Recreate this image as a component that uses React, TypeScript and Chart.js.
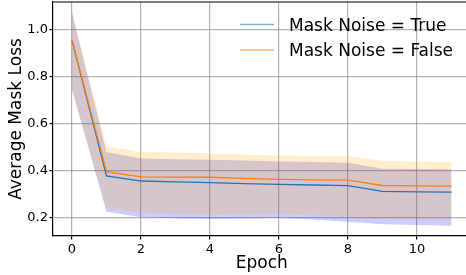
import React, { useEffect, useRef } from 'react';
import { Chart, registerables } from 'chart.js';

Chart.register(...registerables);

const epochs = [0, 1, 2, 3, 4, 5, 6, 7, 8, 9, 10, 11];
const trueMean = [0.957, 0.379, 0.357, 0.353, 0.35, 0.346, 0.343, 0.34, 0.337, 0.313, 0.311, 0.31];
const trueUpper = [1.074, 0.479, 0.453, 0.45, 0.448, 0.444, 0.44, 0.438, 0.435, 0.409, 0.408, 0.407];
const trueLower = [0.745, 0.226, 0.203, 0.199, 0.195, 0.198, 0.2, 0.193, 0.184, 0.173, 0.17, 0.167];
const falseMean = [0.957, 0.397, 0.375, 0.374, 0.373, 0.368, 0.364, 0.362, 0.361, 0.338, 0.336, 0.335];
const falseUpper = [1.076, 0.506, 0.481, 0.478, 0.474, 0.47, 0.466, 0.465, 0.463, 0.442, 0.44, 0.438];
const falseLower = [0.75, 0.238, 0.222, 0.218, 0.212, 0.215, 0.217, 0.21, 0.203, 0.195, 0.193, 0.192];

const xTicks = [0, 2, 4, 6, 8, 10];
const yTicks = [0.2, 0.4, 0.6, 0.8, 1.0];
const legendLabels = ['Mask Noise = True', 'Mask Noise = False'];
const xTitle = 'Epoch';
const yTitle = 'Average Mask Loss';

const FAMILY = '"DejaVu Sans", sans-serif';
const BLUE = '#1f77b4';
const ORANGE = '#ff7f0e';
const GRID = 'rgba(128,128,128,0.6)';

const legendPlugin = {
  id: 'customLegend',
  afterDraw(chart: any) {
    const ctx = chart.ctx;
    const { top, left, right } = chart.chartArea;
    ctx.save();
    ctx.strokeStyle = 'black';
    ctx.lineWidth = 1.2;
    ctx.beginPath();
    ctx.moveTo(left, top);
    ctx.lineTo(right, top);
    ctx.moveTo(right, top);
    ctx.lineTo(right, chart.chartArea.bottom);
    ctx.stroke();
    const colors = ['rgba(31,119,180,0.6)', 'rgba(255,127,14,0.6)'];
    const ys = [24.5, 50];
    ctx.font = `17px ${FAMILY}`;
    ctx.textBaseline = 'alphabetic';
    ctx.textAlign = 'left';
    legendLabels.forEach((t, i) => {
      ctx.strokeStyle = colors[i];
      ctx.lineWidth = 1.5;
      ctx.beginPath();
      ctx.moveTo(240, ys[i]);
      ctx.lineTo(274, ys[i]);
      ctx.stroke();
      ctx.fillStyle = 'black';
      ctx.fillText(t, 289, ys[i] + 6.2);
    });
    ctx.restore();
  },
};

export default function App() {
  const ref = useRef<HTMLCanvasElement>(null);
  useEffect(() => {
    const pts = (ys: number[]) => epochs.map((x, i) => ({ x, y: ys[i] }));
    const band = (ys: number[], color: string, order: number, fill: any) => ({
      data: pts(ys),
      borderWidth: 0,
      borderColor: 'rgba(0,0,0,0)',
      backgroundColor: color,
      pointRadius: 0,
      fill,
      order,
    });
    const tickFont = { family: FAMILY, size: 13 };
    const chart = new Chart(ref.current!, {
      type: 'line',
      data: {
        datasets: [
          band(trueLower, 'rgba(0,0,255,0.2)', 5, false),
          band(trueUpper, 'rgba(0,0,255,0.2)', 4, '-1'),
          band(falseLower, 'rgba(255,165,0,0.2)', 3, false),
          band(falseUpper, 'rgba(255,165,0,0.2)', 2, '-1'),
          {
            label: legendLabels[0],
            data: pts(trueMean),
            borderColor: BLUE,
            borderWidth: 1.3,
            pointRadius: 0,
            fill: false,
            order: 1,
          },
          {
            label: legendLabels[1],
            data: pts(falseMean),
            borderColor: ORANGE,
            borderWidth: 1.3,
            pointRadius: 0,
            fill: false,
            order: 0,
          },
        ] as any,
      },
      options: {
        responsive: false,
        animation: false,
        devicePixelRatio: 1,
        layout: { padding: { top: 2, right: 1.5, left: 0, bottom: 0 } },
        plugins: { legend: { display: false }, tooltip: { enabled: false } },
        elements: { line: { tension: 0 }, point: { radius: 0 } },
        scales: {
          x: {
            type: 'linear',
            min: -0.55,
            max: 11.55,
            z: 1,
            afterBuildTicks: (s: any) => {
              s.ticks = xTicks.map((v) => ({ value: v }));
            },
            afterFit: (s: any) => {
              s.height = 39;
              s.paddingLeft = 0;
              s.paddingRight = 0;
            },
            grid: { color: GRID, lineWidth: 1.2, drawTicks: true, tickLength: 3.5, tickColor: 'black', tickWidth: 1.2 },
            border: { color: 'black', width: 1.2 },
            ticks: {
              font: tickFont,
              color: 'black',
              padding: 2,
              maxRotation: 0,
              autoSkip: false,
              callback: (v: any) => String(v),
            },
            title: {
              display: true,
              text: xTitle,
              color: 'black',
              font: { family: FAMILY, size: 17, lineHeight: 1.2 },
              padding: { top: 0, bottom: 1.5 },
            },
          },
          y: {
            type: 'linear',
            min: 0.123,
            max: 1.119,
            z: 1,
            afterBuildTicks: (s: any) => {
              s.ticks = yTicks.map((v) => ({ value: v }));
            },
            afterFit: (s: any) => {
              s.width = 53;
              s.paddingTop = 0;
              s.paddingBottom = 0;
            },
            grid: { color: GRID, lineWidth: 1.2, drawTicks: true, tickLength: 3.5, tickColor: 'black', tickWidth: 1.2 },
            border: { color: 'black', width: 1.2 },
            ticks: {
              font: tickFont,
              color: 'black',
              padding: 1.5,
              autoSkip: false,
              callback: (v: any) => Number(v).toFixed(1),
            },
            title: {
              display: true,
              text: yTitle,
              color: 'black',
              font: { family: FAMILY, size: 17, lineHeight: 1.2 },
              padding: { top: 6, bottom: 0 },
            },
          },
        },
      } as any,
      plugins: [legendPlugin],
    });
    return () => chart.destroy();
  }, []);
  return (
    <div
      style={{
        position: 'absolute',
        left: 0,
        top: 0,
        width: 466,
        height: 275,
        overflow: 'hidden',
        background: 'white',
      }}
    >
      <canvas ref={ref} width={472} height={275} style={{ display: 'block', width: 472, height: 275 }} />
    </div>
  );
}
